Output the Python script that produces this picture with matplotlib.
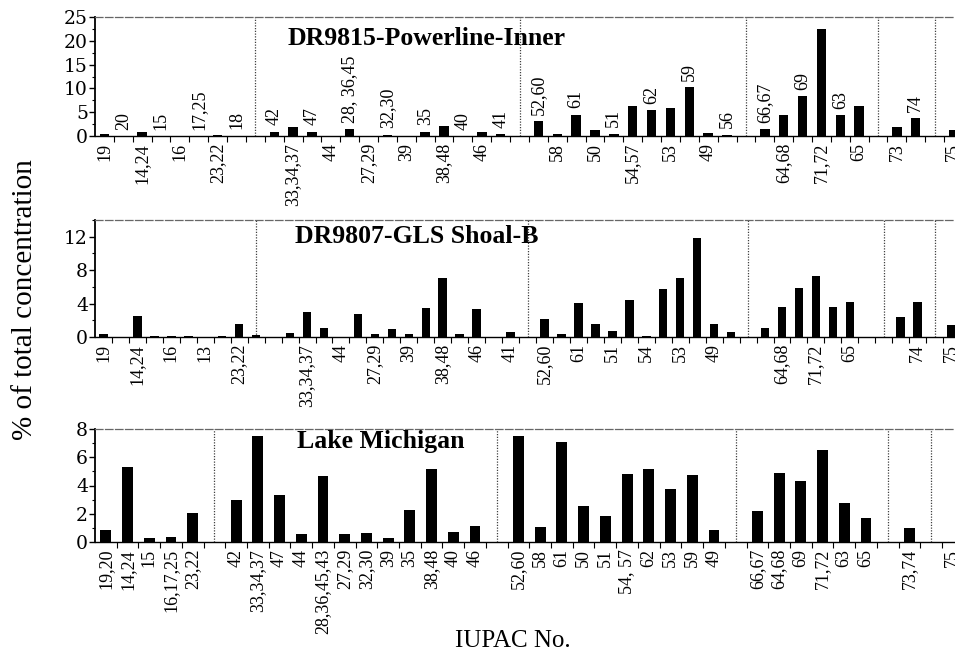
import numpy as np
import matplotlib
matplotlib.use("Agg")
import matplotlib.pyplot as plt
from matplotlib.ticker import FixedLocator, MultipleLocator

plt.rcParams['font.family'] = ['Liberation Serif', 'DejaVu Serif']

# ---- DR9815-Powerline-Inner ----
p1_labels = ['19', '20', '14,24', '15', '16', '17,25', '23,22', '18', '',
             '42', '33,34,37', '47', '44', '28, 36,45', '27,29', '32,30', '39', '35', '38,48', '40', '46', '41', '',
             '52,60', '58', '61', '50', '51', '54,57', '62', '53', '59', '49', '56', '',
             '66,67', '64,68', '69', '71,72', '63', '65', '',
             '73', '74', '', '75']
p1_values = [0.4, 0, 0.8, 0, 0, 0, 0.3, 0.1, 0,
             0.9, 1.9, 0.9, 0.05, 1.5, 0, 0.3, 0, 0.9, 2.2, 0, 0.9, 0.4, 0,
             3.1, 0.5, 4.5, 1.2, 0.5, 6.4, 5.4, 5.9, 10.3, 0.6, 0.3, 0,
             1.5, 4.5, 8.3, 22.5, 4.4, 6.4, 0,
             1.9, 3.7, 0, 1.3]
p1_above = [False, True, False, True, False, True, False, True, False,
            True, False, True, False, True, False, True, False, True, False, True, False, True, False,
            True, False, True, False, True, False, True, False, True, False, True, False,
            True, False, True, False, True, False, False,
            False, True, False, False]
p1_dividers = [8, 22, 34, 41, 44]

# ---- DR9807-GLS Shoal-B ----
p2_labels = ['19', '', '14,24', '', '16', '', '13', '', '23,22', '', '',
             '', '33,34,37', '', '44', '', '27,29', '', '39', '', '38,48', '', '46', '', '41', '',
             '52,60', '', '61', '', '51', '', '54', '', '53', '', '49', '', '',
             '', '64,68', '', '71,72', '', '65', '', '',
             '', '74', '', '75']
p2_values = [0.4, 0, 2.5, 0.15, 0.15, 0.15, 0, 0.08, 1.6, 0.2, 0,
             0.5, 3.0, 1.1, 0, 2.7, 0.3, 0.9, 0.3, 3.5, 7.1, 0.35, 3.4, 0, 0.6, 0,
             2.2, 0.35, 4.1, 1.5, 0.7, 4.4, 0.1, 5.8, 7.1, 11.8, 1.5, 0.6, 0,
             1.1, 3.6, 5.9, 7.3, 3.6, 4.2, 0, 0,
             2.4, 4.2, 0, 1.45]
p2_dividers = [9, 25, 38, 46, 49]

# ---- Lake Michigan ----
p3_labels = ['19,20', '14,24', '15', '16,17,25', '23,22', '',
             '42', '33,34,37', '47', '44', '28,36,45,43', '27,29', '32,30', '39', '35', '38,48', '40', '46', '',
             '52,60', '58', '61', '50', '51', '54, 57', '62', '53', '59', '49', '',
             '66,67', '64,68', '69', '71,72', '63', '65', '',
             '73,74', '', '75']
p3_values = [0.83, 5.3, 0.3, 0.38, 2.05, 0,
             3.0, 7.5, 3.35, 0.59, 4.7, 0.54, 0.66, 0.26, 2.3, 5.2, 0.68, 1.16, 0,
             7.5, 1.04, 7.05, 2.52, 1.84, 4.8, 5.17, 3.77, 4.76, 0.85, 0,
             2.17, 4.88, 4.34, 6.53, 2.76, 1.72, 0,
             0.99, 0, 0]
p3_dividers = [5, 18, 29, 36, 38]

W, H = 955, 660
fig = plt.figure(figsize=(W / 100, H / 100), dpi=100)


def draw_panel(top_px, bottom_px, labels, values, ymax, ystep, dividers, xmax,
               title, title_x, title_y, above=None):
    rect = [95 / W, 1 - bottom_px / H, 1 - 95 / W, (bottom_px - top_px) / H]
    ax = fig.add_axes(rect)
    x = np.arange(len(values))
    ax.bar(x, values, width=0.5, color='black', zorder=3)

    for d in dividers:
        ax.axvline(d, color='0.25', lw=0.9, ls=(0, (1, 1.2)), zorder=2)

    below = [('' if (above is not None and above[i]) else lab) for i, lab in enumerate(labels)]
    ax.set_xticks(x)
    ax.set_xticklabels(below, rotation=90, fontsize=13)
    ax.xaxis.set_minor_locator(FixedLocator(np.arange(len(values)) + 0.5))
    ax.tick_params(axis='x', which='major', length=0, pad=5)
    ax.tick_params(axis='x', which='minor', length=4, width=0.8, direction='out')

    if above is not None:
        for i, lab in enumerate(labels):
            if above[i] and lab:
                ax.annotate(lab, (i, values[i]), xytext=(0, 4.5), textcoords='offset points',
                            rotation=90, ha='center', va='bottom', fontsize=13)

    ax.set_xlim(-0.5, xmax)
    ax.set_ylim(0, ymax)
    ax.yaxis.set_major_locator(MultipleLocator(ystep))
    ax.yaxis.set_minor_locator(MultipleLocator(ystep / 2))
    ax.tick_params(axis='y', which='major', length=4, width=1, pad=1)
    ax.tick_params(axis='y', which='minor', length=2.5, width=0.8)
    for t in ax.get_yticklabels():
        t.set_fontfamily('DejaVu Serif')
        t.set_fontsize(13.5)

    ax.spines['right'].set_visible(False)
    ax.spines['left'].set_linewidth(1.3)
    ax.spines['bottom'].set_linewidth(1.0)
    ax.spines['top'].set_color('0.4')
    ax.spines['top'].set_linewidth(0.9)
    ax.spines['top'].set_linestyle((0, (6, 2)))

    ax.text(title_x, title_y, title, transform=ax.transAxes, fontsize=18.5,
            fontweight='bold', ha='left', va='baseline')
    return ax


draw_panel(17, 136, p1_labels, p1_values, 25, 5, p1_dividers, 45.08,
           'DR9815-Powerline-Inner', 0.2244, 0.765, above=p1_above)
draw_panel(220, 337, p2_labels, p2_values, 14, 4, p2_dividers, 50.2,
           'DR9807-GLS Shoal-B', 0.2326, 0.803)
draw_panel(429, 542, p3_labels, p3_values, 8, 2, p3_dividers, 39.1,
           'Lake Michigan', 0.235, 0.832)

fig.text(25 / W, 1 - 300 / H, '% of total concentration', rotation=90,
         ha='center', va='center', fontsize=21)
fig.text(513 / W, 1 - 641 / H, 'IUPAC No.', ha='center', va='center', fontsize=18)

fig.savefig('out.png', dpi=100)
